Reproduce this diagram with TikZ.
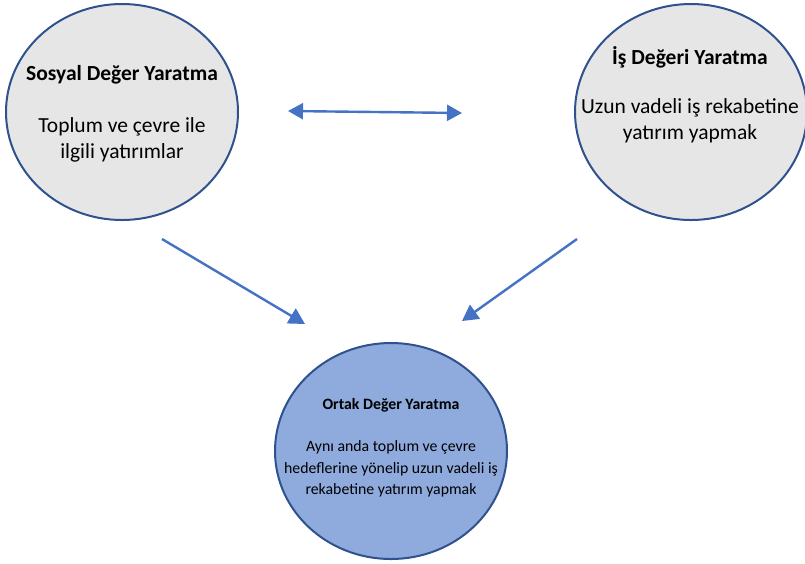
\documentclass[tikz,border=0pt]{standalone}
\usepackage{fontspec}
\setmainfont{Carlito}
\usetikzlibrary{arrows.meta,shapes.geometric}
\definecolor{ringblue}{HTML}{2F528F}
\definecolor{softgray}{HTML}{E7E6E6}
\definecolor{midblue}{HTML}{8FAADC}
\definecolor{arrowblue}{HTML}{4472C4}
\tikzset{
  bubble/.style={ellipse, draw=ringblue, line width=2pt, minimum width=232pt, minimum height=216pt, inner sep=0pt},
  bigtitle/.style={font=\fontsize{21.5}{24}\selectfont\bfseries, align=center, inner sep=0pt},
  bigbody/.style={font=\fontsize{21.5}{25.5}\selectfont, align=center, inner sep=0pt},
  smalltitle/.style={font=\fontsize{15.8}{18}\selectfont\bfseries, align=center, inner sep=0pt},
  smallbody/.style={font=\fontsize{15.8}{21.5}\selectfont, align=center, inner sep=0pt},
  link/.style={draw=arrowblue, line width=2.4pt, -{Triangle[length=16pt,width=17pt]}},
  twoway/.style={draw=arrowblue, line width=2.4pt, {Triangle[length=15pt,width=16pt]}-{Triangle[length=15pt,width=16pt]}}
}
\begin{document}
\begin{tikzpicture}[x=1pt,y=-1pt]
  \useasboundingbox (0,0) rectangle (805,563);

  % three value circles
  \node[bubble, fill=softgray] (social) at (122,112) {};
  \node[bubble, fill=softgray] (business) at (691,112) {};
  \node[bubble, fill=midblue] (shared) at (391,451) {};

  % texts
  \node[bigtitle] (socialT) at (122,75) {Sosyal Değer Yaratma};
  \node[bigbody] (socialB) at (122,140) {Toplum ve çevre ile\\ilgili yatırımlar};

  \node[bigtitle] (businessT) at (690,57) {İş Değeri Yaratma};
  \node[bigbody] (businessB) at (690,121) {Uzun vadeli iş rekabetine\\yatırım yapmak};

  \node[smalltitle] (sharedT) at (391,405) {Ortak Değer Yaratma};
  \node[smallbody] (sharedB) at (391,469) {Aynı anda toplum ve çevre\\hedeflerine yönelip uzun vadeli iş\\rekabetine yatırım yapmak};

  % arrow end points
  \coordinate (hL) at (288,111);
  \coordinate (hR) at (462,113);
  \coordinate (dLs) at (162,239);
  \coordinate (dLe) at (305,324);
  \coordinate (dRs) at (577,239);
  \coordinate (dRe) at (462,321);

  \draw[twoway] (hL) -- (hR);
  \draw[link] (dLs) -- (dLe);
  \draw[link] (dRs) -- (dRe);
\end{tikzpicture}
\end{document}
